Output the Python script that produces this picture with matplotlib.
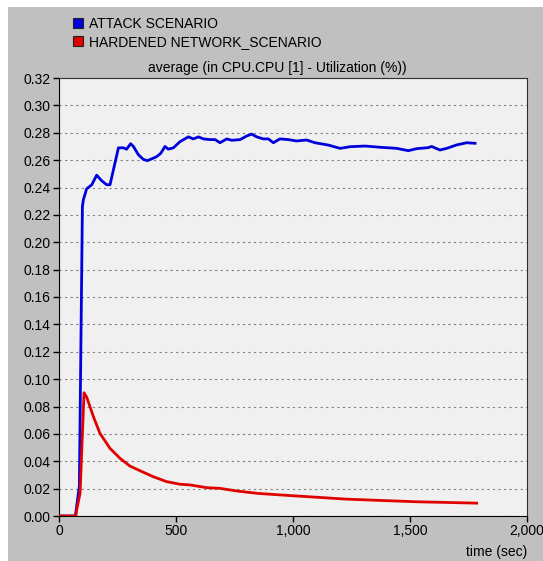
import matplotlib
matplotlib.use('Agg')
import matplotlib.pyplot as plt
from matplotlib.patches import Patch, Rectangle
from matplotlib.ticker import FuncFormatter

plt.rcParams['font.family'] = ['Liberation Sans', 'DejaVu Sans']

# ---- data ----
attack_t = [0, 70, 87, 100, 104, 118, 140, 161, 182, 204, 218, 254, 275, 289, 306,
            318, 339, 360, 378, 397, 417, 435, 453, 467, 489, 517, 553, 574, 596,
            617, 646, 667, 688, 717, 738, 774, 802, 823, 845, 873, 895, 916, 944,
            980, 1015, 1058, 1094, 1151, 1201, 1244, 1308, 1372, 1443, 1493, 1529,
            1578, 1592, 1628, 1657, 1699, 1742, 1778]
attack_v = [0, 0, 0.022, 0.226, 0.231, 0.239, 0.242, 0.249, 0.245, 0.242, 0.242,
            0.269, 0.269, 0.268, 0.272, 0.270, 0.264, 0.2606, 0.2596, 0.261, 0.2625,
            0.265, 0.270, 0.268, 0.269, 0.2735, 0.277, 0.2755, 0.277, 0.2755, 0.275,
            0.275, 0.2727, 0.2755, 0.2745, 0.275, 0.2776, 0.279, 0.277, 0.2755,
            0.2755, 0.2727, 0.2755, 0.275, 0.274, 0.2747, 0.2727, 0.271, 0.2686,
            0.2698, 0.2703, 0.2694, 0.2686, 0.2669, 0.2684, 0.2691, 0.270, 0.2674,
            0.2686, 0.2711, 0.2727, 0.2723]

hard_t = [0, 72, 75, 90, 107, 118, 147, 175, 218, 261, 303, 346, 403, 460, 517,
          560, 631, 688, 759, 850, 1000, 1230, 1526, 1785]
hard_v = [0, 0, 0.004, 0.0166, 0.090, 0.087, 0.0726, 0.0604, 0.0494, 0.0421,
          0.0365, 0.0331, 0.0287, 0.0251, 0.0232, 0.0227, 0.0207, 0.0202, 0.0183,
          0.0165, 0.0148, 0.0123, 0.0104, 0.0094]

labels = ['ATTACK SCENARIO', 'HARDENED NETWORK_SCENARIO']
colors = ['#0000dd', '#e00000']
yticks = [i * 0.02 for i in range(17)]
xticks = [0, 500, 1000, 1500, 2000]

# ---- figure ----
W, H = 543, 561
fig = plt.figure(figsize=(W / 100, H / 100), dpi=100, facecolor='white')
fig.patches.append(Rectangle((8 / W, 0), 1, 1 - 7 / H, transform=fig.transFigure,
                             facecolor='#c0c0c0', edgecolor='none', zorder=-10))

ax = fig.add_axes([59 / W, 45 / H, 468 / W, 438 / H])
ax.set_facecolor('#f0f0f0')

ax.plot(attack_t, attack_v, color=colors[0], lw=2.0, zorder=3)
ax.plot(hard_t, hard_v, color=colors[1], lw=2.0, zorder=3)

ax.set_xlim(0, 2000)
ax.set_ylim(0, 0.32)
ax.set_yticks(yticks)
ax.set_xticks(xticks)
ax.yaxis.set_major_formatter(FuncFormatter(lambda v, p: f'{v:.2f}'))
ax.xaxis.set_major_formatter(FuncFormatter(lambda v, p: f'{int(v):,}'))
ax.tick_params(direction='out', length=4, width=1, labelsize=10, colors='black', pad=2)
ax.yaxis.grid(True, linestyle=(0, (2, 3)), color='#808080', lw=0.8)
ax.set_axisbelow(True)
for side in ['top', 'right']:
    ax.spines[side].set_color('#303030')

ax.set_title('average (in CPU.CPU [1] - Utilization (%))', fontsize=10, pad=4, x=0.466)
ax.set_xlabel('time (sec)', fontsize=10, loc='right', labelpad=5)

handles = [Patch(facecolor=c, edgecolor='#202020', lw=0.8) for c in colors]
fig.legend(handles, labels, loc='upper left', bbox_to_anchor=(66 / W, 1 - 10 / H),
           frameon=False, fontsize=10, handlelength=0.7, handleheight=0.7,
           handletextpad=0.45, labelspacing=0.3, borderpad=0)

fig.savefig('out.png', dpi=100, facecolor=fig.get_facecolor())
